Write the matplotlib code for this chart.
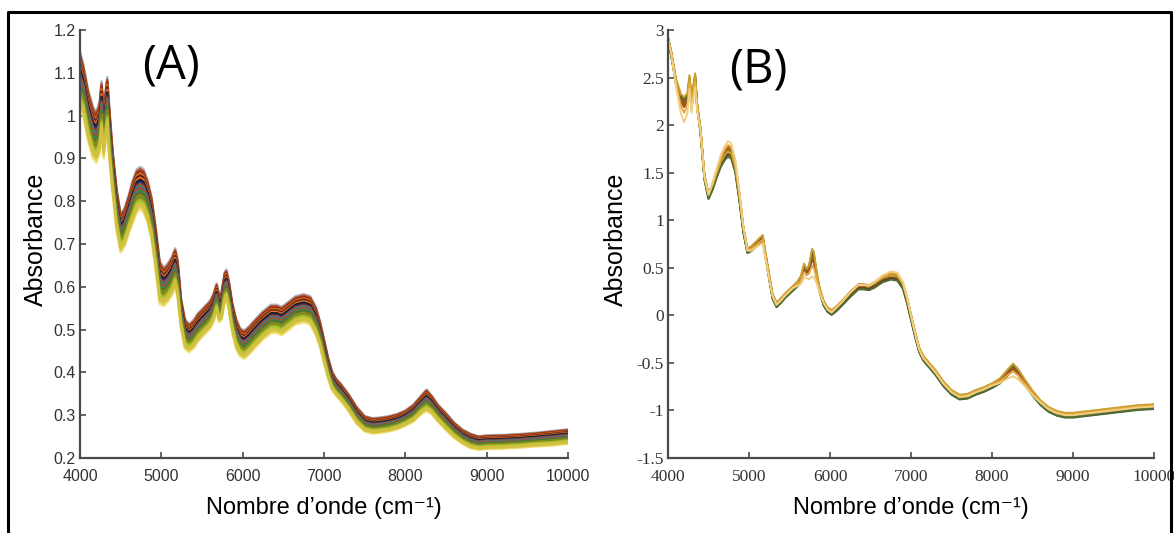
import numpy as np
import matplotlib
matplotlib.use("Agg")
import matplotlib.pyplot as plt
from matplotlib.lines import Line2D

# wavenumber knots (cm-1) shared by both panels
wavenumber = [4000, 4040, 4100, 4160, 4200, 4240, 4265, 4290, 4335, 4360,
              4400, 4450, 4500, 4550, 4600, 4650, 4700, 4740, 4780, 4830,
              4880, 4930, 4980, 5030, 5080, 5130, 5170, 5200, 5240, 5290,
              5340, 5400, 5450, 5500, 5550, 5600, 5640, 5680, 5710, 5740,
              5780, 5800, 5830, 5870, 5920, 5970, 6020, 6080, 6150, 6250,
              6350, 6420, 6480, 6550, 6650, 6750, 6830, 6900, 6950, 7000,
              7050, 7100, 7150, 7200, 7300, 7400, 7500, 7600, 7700, 7800,
              7900, 8000, 8100, 8200, 8260, 8320, 8400, 8500, 8600, 8700,
              8800, 8900, 9000, 9200, 9400, 9600, 9800, 10000]

# (A) raw spectra: band centre and half-width
mean_a = [1.08, 1.06, 1.00, 0.96, 0.95, 0.97, 1.02, 0.96, 1.03, 0.96,
          0.87, 0.78, 0.725, 0.74, 0.77, 0.80, 0.825, 0.83, 0.825, 0.80,
          0.76, 0.69, 0.61, 0.60, 0.61, 0.625, 0.645, 0.62, 0.54, 0.49,
          0.48, 0.49, 0.505, 0.515, 0.525, 0.535, 0.55, 0.575, 0.55, 0.555,
          0.60, 0.605, 0.58, 0.53, 0.49, 0.47, 0.465, 0.475, 0.49, 0.51,
          0.525, 0.525, 0.52, 0.53, 0.545, 0.55, 0.545, 0.52, 0.49, 0.45,
          0.41, 0.38, 0.365, 0.355, 0.33, 0.30, 0.28, 0.275, 0.277, 0.28,
          0.285, 0.293, 0.305, 0.325, 0.335, 0.325, 0.305, 0.285, 0.265, 0.25,
          0.24, 0.235, 0.237, 0.238, 0.24, 0.243, 0.246, 0.25]
half_a = [0.07, 0.06, 0.06, 0.06, 0.06, 0.06, 0.06, 0.06, 0.06, 0.06,
          0.05, 0.05, 0.045, 0.045, 0.045, 0.05, 0.05, 0.05, 0.05, 0.05,
          0.05, 0.05, 0.05, 0.045, 0.045, 0.045, 0.045, 0.045, 0.035, 0.035,
          0.033, 0.033, 0.033, 0.033, 0.033, 0.033, 0.033, 0.033, 0.033, 0.033,
          0.035, 0.035, 0.035, 0.035, 0.035, 0.033, 0.033, 0.033, 0.033, 0.033,
          0.033, 0.033, 0.033, 0.033, 0.033, 0.033, 0.033, 0.033, 0.03, 0.028,
          0.025, 0.022, 0.02, 0.02, 0.02, 0.02, 0.018, 0.018, 0.018, 0.018,
          0.018, 0.018, 0.02, 0.022, 0.025, 0.022, 0.02, 0.02, 0.018, 0.017,
          0.017, 0.016, 0.016, 0.016, 0.016, 0.016, 0.017, 0.017]
# sample position inside the band (+1 top, -1 bottom) and colour
pos_a = [-1.0, -0.9, -0.8, 1.0, 0.9, 0.8, 0.7, 0.6, 0.5, 0.4,
         0.3, 0.2, 0.1, 0.0, -0.1, -0.2, -0.3, -0.4, -0.5, -0.6, -0.7]
col_a = ['#f2e27a', '#e6d45a', '#cfc040', '#9fb8c8', '#c0502a', '#8b2d1a', '#d2691e',
         '#5a1e0e', '#e07030', '#1a1a1a', '#2c2c6c', '#a0522d', '#3a7a8a',
         '#b8452a', '#2e8b57', '#556b2f', '#8b8b1a', '#6b8e23', '#b0a020',
         '#9acd32', '#d4c040']

# (B) pretreated spectra: band centre and deviation of the pale outlier
mean_b = [2.90, 2.75, 2.45, 2.27, 2.23, 2.28, 2.48, 2.25, 2.50, 2.20,
          1.95, 1.45, 1.25, 1.35, 1.48, 1.60, 1.68, 1.72, 1.70, 1.55,
          1.25, 0.90, 0.68, 0.70, 0.74, 0.78, 0.81, 0.65, 0.45, 0.20,
          0.11, 0.16, 0.21, 0.25, 0.29, 0.33, 0.38, 0.50, 0.45, 0.48,
          0.63, 0.60, 0.45, 0.27, 0.13, 0.06, 0.03, 0.07, 0.13, 0.22,
          0.30, 0.30, 0.29, 0.32, 0.38, 0.41, 0.40, 0.31, 0.16, -0.02,
          -0.20, -0.36, -0.45, -0.50, -0.60, -0.72, -0.81, -0.86, -0.85, -0.81,
          -0.78, -0.74, -0.69, -0.60, -0.55, -0.60, -0.70, -0.82, -0.92, -0.99,
          -1.03, -1.05, -1.05, -1.03, -1.01, -0.99, -0.97, -0.96]
dev_b = [0.0, 0.0, -0.05, -0.15, -0.20, -0.15, -0.10, -0.12, -0.10, -0.05,
         0.0, 0.0, 0.02, 0.04, 0.06, 0.08, 0.10, 0.11, 0.11, 0.09,
         0.06, 0.03, 0.0, -0.02, -0.03, -0.04, -0.05, -0.04, -0.02, 0.0,
         0.0, 0.0, 0.0, 0.0, 0.0, -0.02, -0.05, -0.10, -0.06, -0.10,
         -0.22, -0.20, -0.10, -0.03, 0.0, 0.0, 0.0, 0.01, 0.01, 0.02,
         0.02, 0.02, 0.02, 0.03, 0.04, 0.05, 0.05, 0.04, 0.03, 0.02,
         0.01, 0.0, 0.0, 0.0, 0.0, 0.0, 0.0, 0.0, 0.0, 0.0,
         0.0, 0.0, -0.02, -0.06, -0.09, -0.07, -0.04, -0.02, 0.0, 0.0,
         0.0, 0.0, 0.0, 0.0, 0.0, 0.0, 0.0, 0.0]
# per-sample weight on the deviation, small vertical shift, colour
weight_b = [1.0, 0.55, -0.2, 0.3, -0.3, 0.1, -0.1, 0.2, 0.0, -0.25, 0.15]
shift_b = [0.0, 0.01, 0.025, 0.02, -0.02, 0.01, -0.01, 0.0, -0.025, 0.0, 0.015]
col_b = ['#f0d080', '#e8a840', '#c8a030', '#a0522d', '#556b2f', '#8b6914',
         '#6b4423', '#cd853f', '#2e5e2e', '#808000', '#b8860b']

xticks = [4000, 5000, 6000, 7000, 8000, 9000, 10000]
yticks_a = [0.2, 0.3, 0.4, 0.5, 0.6, 0.7, 0.8, 0.9, 1.0, 1.1, 1.2]
ylabels_a = ['0.2', '0.3', '0.4', '0.5', '0.6', '0.7', '0.8', '0.9', '1', '1.1', '1.2']
yticks_b = [-1.5, -1.0, -0.5, 0.0, 0.5, 1.0, 1.5, 2.0, 2.5, 3.0]
ylabels_b = ['-1.5', '-1', '-0.5', '0', '0.5', '1', '1.5', '2', '2.5', '3']

W, H = 1174, 533
fig = plt.figure(figsize=(W / 100, H / 100), dpi=100)
fig.patch.set_facecolor('white')

sans = ['Liberation Sans', 'DejaVu Sans']
serif = ['Liberation Serif', 'DejaVu Serif']

ax_a = fig.add_axes([80 / W, 1 - 458 / H, 488 / W, 428 / H])
ax_b = fig.add_axes([668 / W, 1 - 458 / H, 486 / W, 428 / H])

wn = np.array(wavenumber)
ma, ha = np.array(mean_a), np.array(half_a)
for p, c in zip(pos_a, col_a):
    ax_a.plot(wn, ma + p * ha, color=c, lw=1.7, solid_joinstyle='round')

mb, db = np.array(mean_b), np.array(dev_b)
for i in range(len(weight_b) - 1, -1, -1):
    ax_b.plot(wn, mb + weight_b[i] * db + shift_b[i], color=col_b[i], lw=1.4,
              solid_joinstyle='round')


def style(ax, yticks, ylabels, tick_family, tick_size, ylim):
    ax.set_xlim(4000, 10000)
    ax.set_ylim(*ylim)
    for s in ['top', 'right']:
        ax.spines[s].set_visible(False)
    for s in ['left', 'bottom']:
        ax.spines[s].set_color('#4a4a4a')
        ax.spines[s].set_linewidth(1.6)
    ax.set_xticks(xticks)
    ax.set_xticklabels([str(t) for t in xticks])
    ax.set_yticks(yticks)
    ax.set_yticklabels(ylabels)
    ax.tick_params(direction='in', length=4, width=1.2, color='#4a4a4a',
                   labelsize=tick_size, labelcolor='#333333', pad=3)
    ax.tick_params(axis='x', pad=8)
    for lab in ax.get_xticklabels() + ax.get_yticklabels():
        lab.set_family(tick_family)
    ax.set_xlabel('Nombre d\u2019onde (cm\u207b\u00b9)', family=sans, fontsize=17)
    ax.set_ylabel('Absorbance', family=sans, fontsize=18)
    ax.xaxis.set_label_coords(0.5, -0.09)


style(ax_a, yticks_a, ylabels_a, sans, 11.5, (0.2, 1.2))
ax_a.yaxis.set_label_coords(-0.066, 0.51)
style(ax_b, yticks_b, ylabels_b, serif, 12.5, (-1.5, 3.0))
ax_b.yaxis.set_label_coords(-0.082, 0.51)

# panel letters
fig.text(171 / W, 1 - 66 / H, '(A)', family=['Open Sans', 'DejaVu Sans'],
         fontsize=34, ha='center', va='center')
fig.text(758 / W, 1 - 70 / H, '(B)', family=['Open Sans', 'DejaVu Sans'],
         fontsize=34, ha='center', va='center')

# black frame round the whole figure
frame_x = [8 / W, 8 / W, 1171 / W, 1171 / W]
frame_y = [0.0, 1 - 12 / H, 1 - 12 / H, 0.0]
fig.add_artist(Line2D(frame_x, frame_y, transform=fig.transFigure,
                      color='black', lw=2.2))

fig.savefig('out.png', dpi=100)
